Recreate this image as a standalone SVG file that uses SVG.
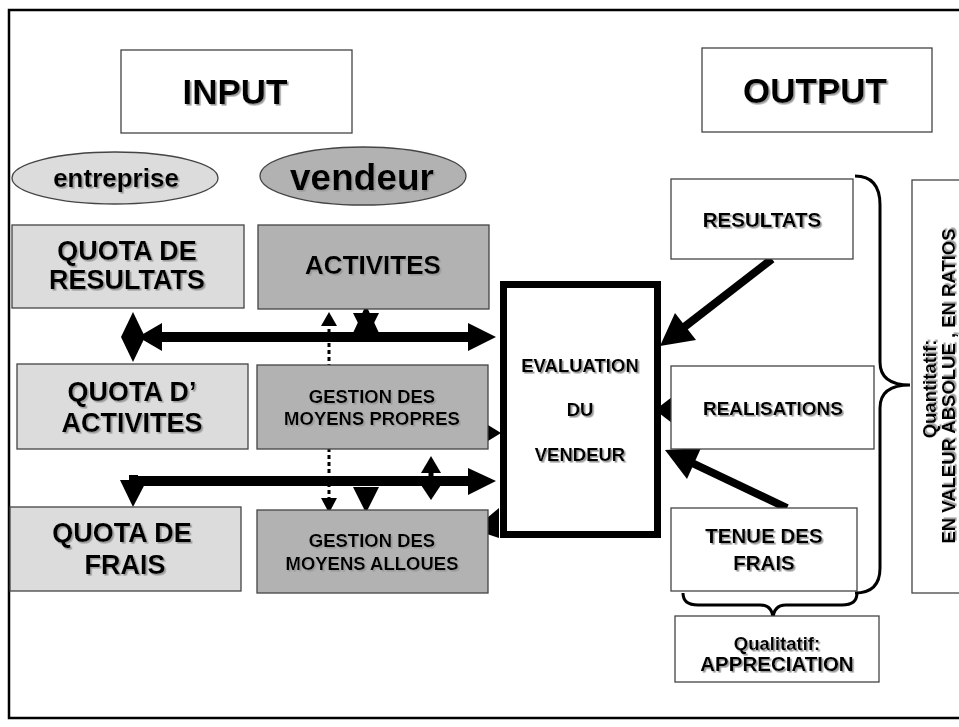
<svg xmlns="http://www.w3.org/2000/svg" width="959" height="727" viewBox="0 0 959 727">
  <defs>
    <filter id="sh" x="-10%" y="-20%" width="120%" height="150%">
      <feDropShadow dx="1.6" dy="1.6" stdDeviation="0.6" flood-color="#9a9a9a" flood-opacity="1"/>
    </filter>
  </defs>
  <style>
    text { font-family: "Liberation Sans", Arial, sans-serif; font-weight: bold; fill: #000; text-anchor: middle; filter: url(#sh); }
    .box { fill: #fff; stroke: #444; stroke-width: 1.3; }
    .light { fill: #dcdcdc; stroke: #444; stroke-width: 1.3; }
    .dark { fill: #b2b2b2; stroke: #444; stroke-width: 1.3; }
    .big { font-size: 35px; }
    .q { font-size: 27px; }
    .act { font-size: 26px; }
    .g { font-size: 18.5px; }
    .o { font-size: 20.5px; }
    .thick { stroke: #000; stroke-width: 10; fill: none; }
    .diag { stroke: #000; stroke-width: 8; fill: none; }
    .head { fill: #000; stroke: none; }
    .brace { stroke: #000; stroke-width: 3; fill: none; }
  </style>

  <!-- outer frame -->
  <rect x="9" y="10" width="980" height="708" fill="#fff" stroke="#000" stroke-width="2.5"/>

  <!-- connectors -->
  <g id="connectors">
    <!-- upper double arrow: quotas / activites -> evaluation -->
    <line class="thick" x1="150" y1="337" x2="472" y2="337"/>
    <polygon class="head" points="496,337 468,323 468,351"/>
    <polygon class="head" points="138,337 162,323 162,351"/>
    <!-- vertical double head between quota de resultats and quota d'activites -->
    <polygon class="head" points="133,312 121,337 145,337"/>
    <polygon class="head" points="133,362 121,337 145,337"/>
    <!-- short double head under ACTIVITES -->
    <polygon class="head" points="366,305 353,333 379,333"/>
    <polygon class="head" points="366,339 353,313 379,313"/>

    <!-- dotted link between activites and moyens alloues -->
    <line x1="329" y1="322" x2="329" y2="500" stroke="#000" stroke-width="3" stroke-dasharray="4,3"/>
    <polygon class="head" points="329,312 321,326 337,326"/>
    <polygon class="head" points="329,513 321,498 337,498"/>

    <!-- moyens propres -> evaluation -->
    <polygon class="head" points="501,433 488,425 488,441"/>

    <!-- lower arrow: evaluation line to quota de frais -->
    <line class="thick" x1="129" y1="481" x2="472" y2="481"/>
    <rect x="129" y="475" width="9" height="11" fill="#000"/>
    <polygon class="head" points="496,481 468,468 468,495"/>
    <polygon class="head" points="133,507 120,480 147,480"/>
    <!-- down to moyens alloues -->
    <polygon class="head" points="366,513 353,487 379,487"/>
    <!-- small double head -->
    <line x1="431" y1="466" x2="431" y2="492" stroke="#000" stroke-width="5"/>
    <polygon class="head" points="431,456 421,473 441,473"/>
    <polygon class="head" points="431,500 421,485 441,485"/>

    <!-- evaluation -> moyens alloues -->
    <polygon class="head" points="487,518 499,508 499,538 487,534"/>

    <!-- outputs -> evaluation -->
    <line class="diag" x1="772" y1="259" x2="683" y2="328"/>
    <polygon class="head" points="660,346 696,340 675,313"/>
    <polygon class="head" points="655,410 672,397 672,423"/>
    <line class="diag" x1="787" y1="508" x2="690" y2="462"/>
    <polygon class="head" points="665,450 701,448 687,479"/>

    <!-- braces -->
    <path class="brace" d="M855,176 Q880,176 880,205 L880,362 Q880,385 910,385 Q880,385 880,408 L880,568 Q880,593 855,593"/>
    <path class="brace" d="M683,593 Q683,605 698,605 L760,605 Q773,605 773,620 Q773,605 786,605 L842,605 Q857,605 857,593"/>
  </g>

  <!-- headers -->
  <g id="input">
    <rect class="box" x="121" y="50" width="231" height="83"/>
    <text class="big" x="235" y="104">INPUT</text>
  </g>
  <g id="output">
    <rect class="box" x="702" y="48" width="230" height="84"/>
    <text class="big" x="815" y="103">OUTPUT</text>
  </g>

  <!-- sources -->
  <g id="entreprise">
    <ellipse cx="115" cy="178" rx="103" ry="26" fill="#dcdcdc" stroke="#444" stroke-width="1.3"/>
    <text x="116" y="187" style="font-size:26px">entreprise</text>
  </g>
  <g id="vendeur">
    <ellipse cx="363" cy="176" rx="103" ry="29" fill="#b2b2b2" stroke="#444" stroke-width="1.3"/>
    <text x="362" y="190" style="font-size:37px">vendeur</text>
  </g>

  <!-- quotas -->
  <g id="quota-resultats">
    <rect class="light" x="12" y="225" width="232" height="83"/>
    <text class="q" x="127" y="260">QUOTA  DE</text>
    <text class="q" x="127" y="289">RESULTATS</text>
  </g>
  <g id="quota-activites">
    <rect class="light" x="17" y="364" width="231" height="85"/>
    <text class="q" x="132" y="401">QUOTA  D’</text>
    <text class="q" x="132" y="432">ACTIVITES</text>
  </g>
  <g id="quota-frais">
    <rect class="light" x="10" y="507" width="231" height="84"/>
    <text class="q" x="122" y="542">QUOTA  DE</text>
    <text class="q" x="125" y="574">FRAIS</text>
  </g>

  <!-- vendeur side -->
  <g id="activites">
    <rect class="dark" x="258" y="225" width="231" height="84"/>
    <text class="act" x="373" y="274">ACTIVITES</text>
  </g>
  <g id="moyens-propres">
    <rect class="dark" x="257" y="365" width="231" height="84"/>
    <text class="g" x="372" y="403">GESTION DES</text>
    <text class="g" x="372" y="425">MOYENS PROPRES</text>
  </g>
  <g id="moyens-alloues">
    <rect class="dark" x="257" y="510" width="231" height="83"/>
    <text class="g" x="372" y="547">GESTION DES</text>
    <text class="g" x="372" y="570">MOYENS ALLOUES</text>
  </g>

  <!-- evaluation -->
  <g id="evaluation">
    <rect x="503.5" y="284.5" width="154" height="250" fill="#fff" stroke="#000" stroke-width="7"/>
    <text x="580" y="372" style="font-size:18.5px">EVALUATION</text>
    <text x="580" y="416" style="font-size:18.5px">DU</text>
    <text x="580" y="461" style="font-size:18.5px">VENDEUR</text>
  </g>

  <!-- outputs -->
  <g id="resultats">
    <rect class="box" x="671" y="179" width="182" height="80"/>
    <text class="o" x="762" y="227">RESULTATS</text>
  </g>
  <g id="realisations">
    <rect class="box" x="671" y="366" width="203" height="83"/>
    <text x="773" y="415" style="font-size:19px">REALISATIONS</text>
  </g>
  <g id="tenue-frais">
    <rect class="box" x="671" y="508" width="186" height="83"/>
    <text class="o" x="764" y="543">TENUE DES</text>
    <text class="o" x="764" y="570">FRAIS</text>
  </g>

  <g id="quantitatif">
    <rect class="box" x="912" y="180" width="70" height="413"/>
    <text transform="translate(936,389) rotate(-90)" style="font-size:18.5px">Quantitatif:</text>
    <text transform="translate(955,386) rotate(-90)" style="font-size:18.5px">EN VALEUR ABSOLUE , EN RATIOS</text>
  </g>
  <g id="qualitatif">
    <rect class="box" x="675" y="616" width="204" height="66"/>
    <text class="g" x="777" y="650">Qualitatif:</text>
    <text class="o" x="777" y="671">APPRECIATION</text>
  </g>
</svg>
